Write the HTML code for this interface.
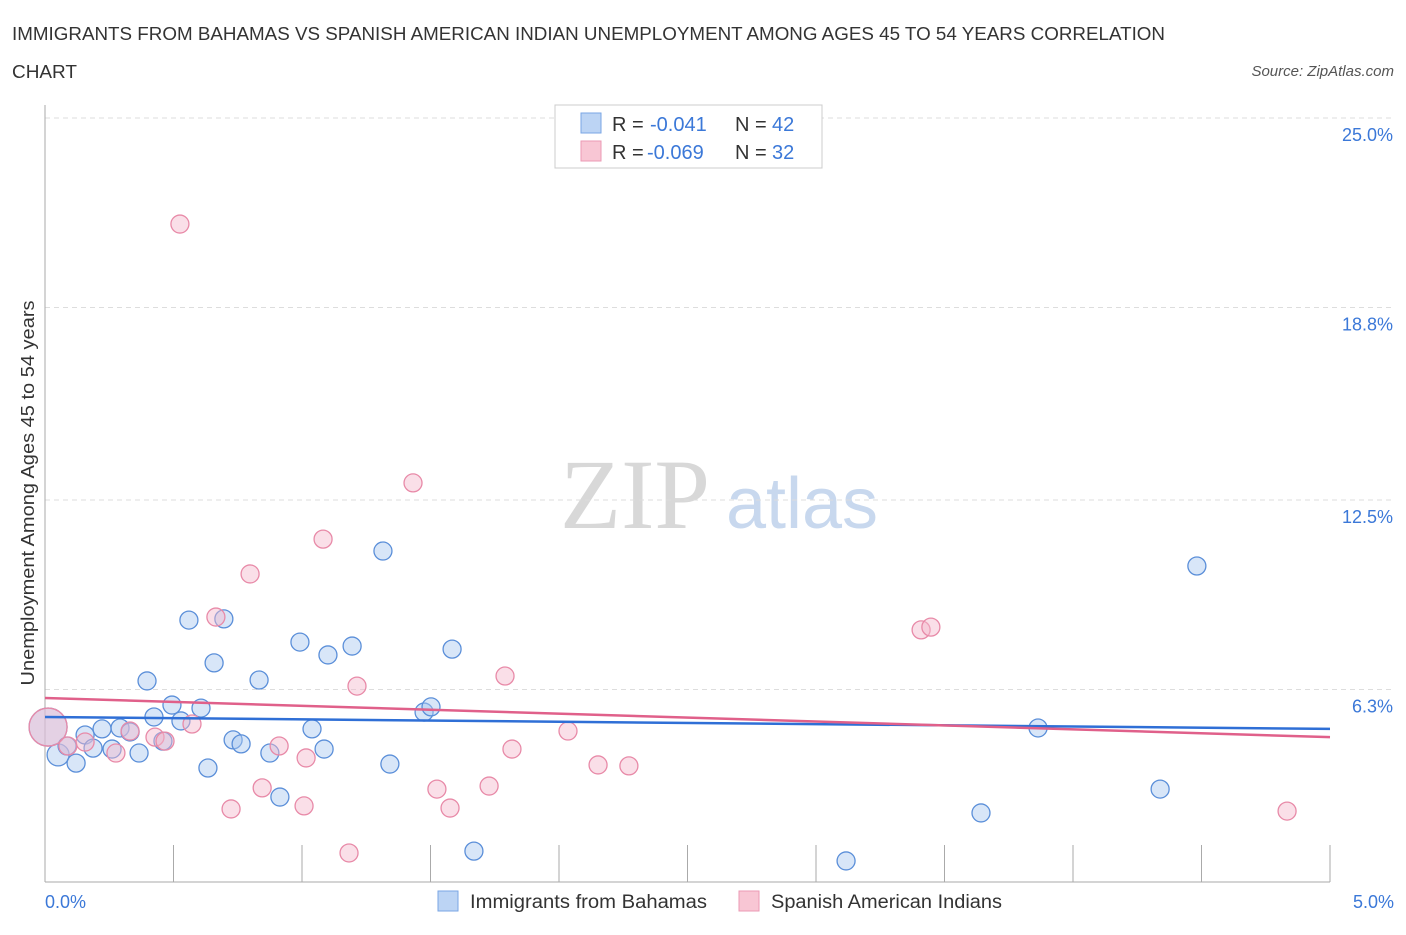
<!DOCTYPE html>
<html><head><meta charset="utf-8"><style>
body{margin:0;background:#fff;font-family:"Liberation Sans",sans-serif;}
</style></head><body>
<svg width="1406" height="930" xmlns="http://www.w3.org/2000/svg" font-family="Liberation Sans, sans-serif">
<text x="12" y="40" font-size="18" fill="#333" textLength="1153" lengthAdjust="spacingAndGlyphs">IMMIGRANTS FROM BAHAMAS VS SPANISH AMERICAN INDIAN UNEMPLOYMENT AMONG AGES 45 TO 54 YEARS CORRELATION</text>
<text x="12" y="78" font-size="18" fill="#333" textLength="65" lengthAdjust="spacingAndGlyphs">CHART</text>
<text x="1394" y="76" font-size="15" fill="#555" font-style="italic" text-anchor="end">Source: ZipAtlas.com</text>
<text x="635" y="528" font-size="100" fill="#d8d8d8" font-family="Liberation Serif, serif" text-anchor="middle">ZIP</text>
<text x="802" y="528" font-size="72" fill="#c8d8ee" text-anchor="middle">atlas</text>
<g id="grid"></g>
<g id="axes"></g>
<g id="marks"></g>
<text transform="translate(34,493) rotate(-90)" font-size="18" fill="#333" text-anchor="middle" textLength="385" lengthAdjust="spacingAndGlyphs">Unemployment Among Ages 45 to 54 years</text>
<text x="45" y="908" font-size="18" fill="#3b78d8">0.0%</text>
<text x="1394" y="908" font-size="18" fill="#3b78d8" text-anchor="end">5.0%</text>
<g>
<rect x="555" y="105" width="267" height="63" fill="#fff" stroke="#ccc"/>
<rect x="581" y="113" width="20" height="20" fill="#bcd4f4" stroke="#7aa6e4"/>
<text x="612" y="131" font-size="20" fill="#333">R =</text><text x="650" y="131" font-size="20" fill="#3b78d8">-0.041</text>
<text x="735" y="131" font-size="20" fill="#333">N =</text><text x="772" y="131" font-size="20" fill="#3b78d8">42</text>
<rect x="581" y="141" width="20" height="20" fill="#f8c6d4" stroke="#eb9ab4"/>
<text x="612" y="159" font-size="20" fill="#333">R =</text><text x="647" y="159" font-size="20" fill="#3b78d8">-0.069</text>
<text x="735" y="159" font-size="20" fill="#333">N =</text><text x="772" y="159" font-size="20" fill="#3b78d8">32</text>
</g>
<g>
<rect x="438" y="891" width="20" height="20" fill="#bcd4f4" stroke="#7aa6e4"/>
<text x="470" y="908" font-size="19" fill="#333" textLength="237" lengthAdjust="spacingAndGlyphs">Immigrants from Bahamas</text>
<rect x="739" y="891" width="20" height="20" fill="#f8c6d4" stroke="#eb9ab4"/>
<text x="771" y="908" font-size="19" fill="#333" textLength="231" lengthAdjust="spacingAndGlyphs">Spanish American Indians</text>
</g>
</svg>
<script>
const yTicks=[25.0,18.8,12.5,6.3];
const yTickLabels=["25.0%","18.8%","12.5%","6.3%"];
const xTicks=[0,0.5,1,1.5,2,2.5,3,3.5,4,4.5,5];
const blueX=[0.012,0.051,0.086,0.121,0.156,0.187,0.222,0.261,0.292,0.331,0.366,0.397,0.424,0.459,0.494,0.529,0.560,0.607,0.634,0.658,0.696,0.732,0.763,0.833,0.875,0.914,0.992,1.039,1.086,1.101,1.195,1.315,1.342,1.475,1.502,1.584,1.669,3.117,3.642,3.864,4.339,4.482];
const blueY=[5.07,4.16,4.45,3.89,4.81,4.38,5.01,4.35,5.04,4.91,4.22,6.58,5.40,4.61,5.79,5.27,8.57,5.69,3.73,7.17,8.61,4.65,4.52,6.61,4.22,2.78,7.85,5.01,4.35,7.43,7.72,10.83,3.86,5.56,5.73,7.62,1.01,0.69,2.26,5.04,3.04,10.34];
const pinkX=[0.012,0.089,0.156,0.276,0.331,0.428,0.467,0.525,0.572,0.665,0.724,0.798,0.845,0.911,1.008,1.016,1.082,1.183,1.214,1.432,1.525,1.576,1.728,1.790,1.817,2.035,2.152,2.272,3.409,3.447,4.833];
const pinkY=[5.07,4.45,4.58,4.22,4.94,4.74,4.61,21.53,5.17,8.67,2.39,10.08,3.08,4.45,2.49,4.06,11.22,0.95,6.41,13.06,3.04,2.42,3.14,6.74,4.35,4.94,3.83,3.80,8.25,8.34,2.32];
const blueTrend=[5.40,5.01];
const pinkTrend=[6.02,4.74];
const NS="http://www.w3.org/2000/svg";
const X0=45,X1=1330,Y0=882,YT=118;
const xs=v=>X0+v/5*(X1-X0);
const ys=v=>Y0-v/25*(Y0-YT);
function mk(tag,attrs,parent){const e=document.createElementNS(NS,tag);for(const k in attrs)e.setAttribute(k,attrs[k]);document.getElementById(parent).appendChild(e);return e;}
yTicks.forEach((t,i)=>{
 const l=mk('line',{x1:X0,x2:1395,y1:ys(t),y2:ys(t),stroke:'#ddd','stroke-dasharray':'5,4'},'grid');
 
 
 const tx=mk('text',{x:1393,y:ys(t)+23,'font-size':18,fill:'#3b78d8','text-anchor':'end'},'grid');
 tx.textContent=yTickLabels[i];
 
 
});
const ax=mk('line',{x1:X0,x2:X1,y1:Y0,y2:Y0,stroke:'#aaa'},'axes');


const ay=mk('line',{x1:X0,x2:X0,y1:105,y2:Y0,stroke:'#aaa'},'axes');


xTicks.forEach(t=>{
 const l=mk('line',{x1:xs(t),x2:xs(t),y1:845,y2:Y0,stroke:'#aaa'},'axes');
 
 
});
function pts(X,Y,fill,stroke,name){
 X.forEach((x,i)=>{
  const r=i===0?19:(name==='bahamas-point'&&i===1?11:9);
  const c=mk('circle',{cx:xs(x),cy:ys(Y[i]),r:r,fill:fill,'fill-opacity':0.45,stroke:stroke,'stroke-width':1.3},'marks');
  
  
 });
}
pts(blueX,blueY,'#a8c8f0','#5b8fd9','bahamas-point');
pts(pinkX,pinkY,'#f5b8cb','#e88aa8','spanish-point');
const bl=mk('line',{x1:xs(0),x2:xs(5),y1:ys(blueTrend[0]),y2:ys(blueTrend[1]),stroke:'#2f6fd6','stroke-width':2.5},'marks');


const pl=mk('line',{x1:xs(0),x2:xs(5),y1:ys(pinkTrend[0]),y2:ys(pinkTrend[1]),stroke:'#e0608a','stroke-width':2.5},'marks');


</script>
</body></html>
